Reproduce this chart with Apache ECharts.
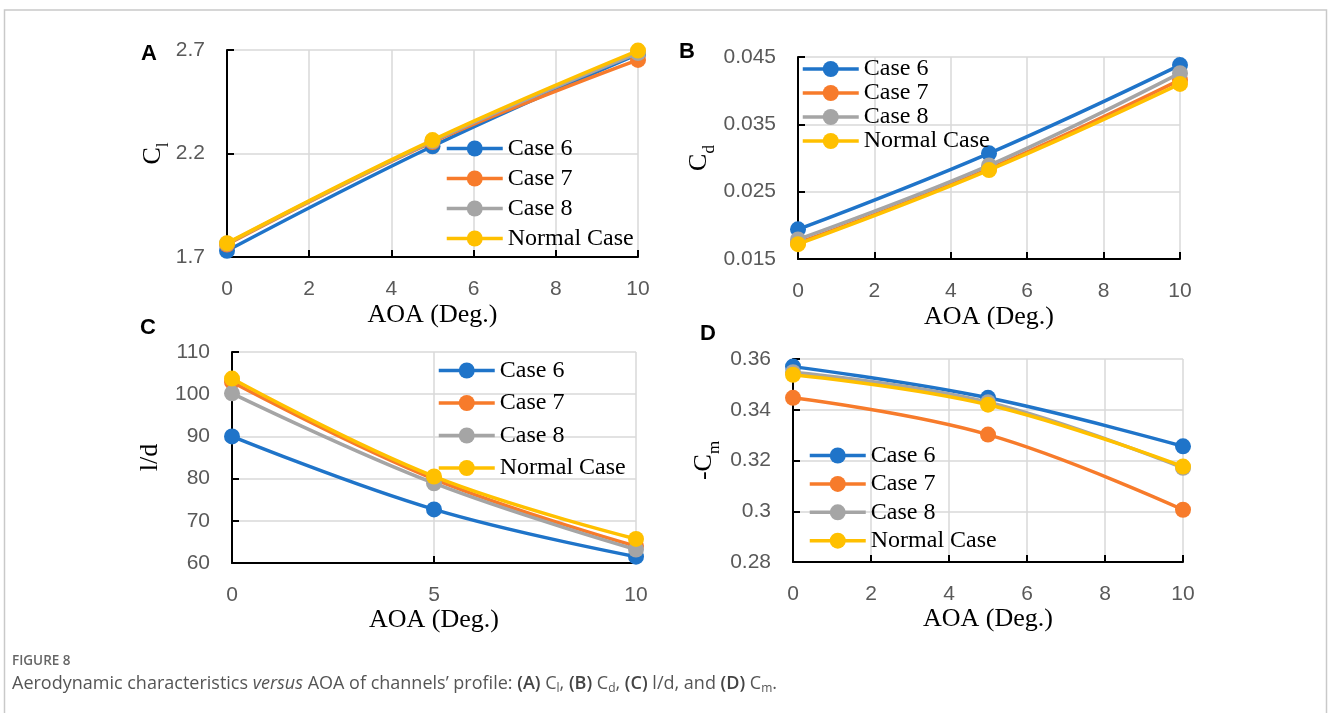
<!DOCTYPE html>
<html>
<head>
<meta charset="utf-8">
<title>Aerodynamic characteristics versus AOA</title>
<script src="https://cdn.jsdelivr.net/npm/echarts@6/dist/echarts.min.js"></script>
<style>
  html, body { margin: 0; padding: 0; background: #fff; }
  #chart { width: 1328px; height: 713px; }
</style>
</head>
<body>
<div id="chart"></div>
<script>
// Angle of attack (deg.)
const aoa = [0, 5, 10];
const caseNames = ['Case 6', 'Case 7', 'Case 8', 'Normal Case'];

// (A) lift coefficient C_l
const clCase6  = [1.730, 2.235, 2.680];
const clCase7  = [1.760, 2.255, 2.652];
const clCase8  = [1.765, 2.260, 2.685];
const clNormal = [1.767, 2.265, 2.697];

// (B) drag coefficient C_d
const cdCase6  = [0.0194, 0.0307, 0.0438];
const cdCase7  = [0.0174, 0.0284, 0.0416];
const cdCase8  = [0.0179, 0.0289, 0.0426];
const cdNormal = [0.0172, 0.0282, 0.0410];

// (C) lift-to-drag ratio l/d
const ldCase6  = [90.0, 72.7, 61.5];
const ldCase7  = [102.9, 79.9, 64.0];
const ldCase8  = [100.2, 78.9, 63.2];
const ldNormal = [103.7, 80.5, 65.7];

// (D) pitching moment -C_m
const cmCase6  = [0.3570, 0.3447, 0.3256];
const cmCase7  = [0.3447, 0.3302, 0.3006];
const cmCase8  = [0.3548, 0.3430, 0.3171];
const cmNormal = [0.3538, 0.3420, 0.3176];

// Tick values
const clTicks = [1.7, 2.2, 2.7];
const cdTicks = [0.015, 0.025, 0.035, 0.045];
const ldTicks = [60, 70, 80, 90, 100, 110];
const cmTicks = [0.28, 0.30, 0.32, 0.34, 0.36];
const aoaTicksFine = [0, 2, 4, 6, 8, 10];
const aoaTicksCoarse = [0, 5, 10];

const colors = ['#1f74c9', '#f77b2b', '#a5a5a5', '#ffc000'];

const serif = '"Liberation Serif", "Times New Roman", serif';
const sans = '"Liberation Sans", Arial, sans-serif';

const panels = [
  { grid: { left: 227, top: 50, width: 411, height: 207 }, xt: aoaTicksFine, yt: clTicks,
    data: [clCase6, clCase7, clCase8, clNormal],
    yName: '{c|C}{s|l}', yGap: 58, xGap: 45,
    legend: { left: 445, top: 136.5, itemGap: 6 }, tag: 'A', tagPos: [149, 54] },
  { grid: { left: 798, top: 57, width: 382, height: 202 }, xt: aoaTicksFine, yt: cdTicks,
    data: [cdCase6, cdCase7, cdCase8, cdNormal],
    yName: '{c|C}{s|d}', yGap: 84, xGap: 45,
    legend: { left: 801, top: 57, itemGap: 0 }, tag: 'B', tagPos: [687, 52] },
  { grid: { left: 232, top: 352, width: 404, height: 211 }, xt: aoaTicksCoarse, yt: ldTicks,
    data: [ldCase6, ldCase7, ldCase8, ldNormal],
    yName: '{c|l/d}', yGap: 67, xGap: 41,
    legend: { left: 437, top: 358.5, itemGap: 8.5 }, tag: 'C', tagPos: [148, 328] },
  { grid: { left: 793, top: 359, width: 390, height: 203 }, xt: aoaTicksFine, yt: cmTicks,
    data: [cmCase6, cmCase7, cmCase8, cmNormal],
    yName: '{c|-C}{s|m}', yGap: 74, xGap: 42,
    legend: { left: 808, top: 443.5, itemGap: 4.4 }, tag: 'D', tagPos: [708, 334] }
];

const step = t => +(t[1] - t[0]).toFixed(6);

const grid = [], xAxis = [], yAxis = [], series = [], legend = [], graphic = [];

panels.forEach((p, i) => {
  grid.push(Object.assign({ outerBoundsMode: 'none', containLabel: false }, p.grid));
  const axisLine = { show: true, onZero: false, lineStyle: { color: '#000', width: 2 } };
  const axisTick = { show: true, inside: true, length: 7, lineStyle: { color: '#000', width: 2 } };
  const splitLine = { show: true, lineStyle: { color: '#d9d9d9', width: 1.5 } };
  xAxis.push({
    type: 'value', gridIndex: i,
    min: p.xt[0], max: p.xt[p.xt.length - 1], interval: step(p.xt),
    axisLine, axisTick, splitLine,
    axisLabel: { color: '#595959', fontFamily: sans, fontSize: 21, margin: 22 },
    name: 'AOA (Deg.)', nameLocation: 'middle', nameGap: p.xGap,
    nameTextStyle: { fontFamily: serif, fontSize: 26, color: '#000' }
  });
  yAxis.push({
    type: 'value', gridIndex: i,
    min: p.yt[0], max: p.yt[p.yt.length - 1], interval: step(p.yt),
    axisLine, axisTick, splitLine,
    axisLabel: { color: '#595959', fontFamily: sans, fontSize: 21, margin: 22 },
    name: p.yName, nameLocation: 'middle', nameGap: p.yGap,
    nameTextStyle: {
      fontFamily: serif, color: '#000',
      rich: {
        c: { fontFamily: serif, fontSize: 26, color: '#000', lineHeight: 30, verticalAlign: 'middle' },
        s: { fontFamily: serif, fontSize: 17, color: '#000', lineHeight: 22, verticalAlign: 'bottom', padding: [0, 0, -4, 0] }
      }
    }
  });
  p.data.forEach((vals, k) => {
    series.push({
      type: 'line', name: caseNames[k], xAxisIndex: i, yAxisIndex: i,
      data: aoa.map((x, j) => [x, vals[j]]),
      smooth: 0.4,
      symbol: 'circle', symbolSize: 16, showSymbol: true,
      lineStyle: { color: colors[k], width: 3.5 },
      itemStyle: { color: colors[k] },
      emphasis: { disabled: true },
      z: 2 + k
    });
  });
  legend.push({
    orient: 'vertical', left: p.legend.left, top: p.legend.top, itemGap: p.legend.itemGap,
    padding: 0, itemWidth: 56, itemHeight: 20,
    data: caseNames,
    lineStyle: { width: 3.5 },
    textStyle: { fontFamily: serif, fontSize: 24, lineHeight: 24, color: '#000' },
    selectedMode: false
  });
  graphic.push({
    type: 'text', x: p.tagPos[0], y: p.tagPos[1], silent: true,
    style: { text: p.tag, font: 'bold 22px ' + sans, fill: '#000', align: 'center', verticalAlign: 'middle' }
  });
});

// Outer frame of the figure
graphic.push({
  type: 'rect', silent: true, z: -10,
  shape: { x: 4.5, y: 10, width: 1322, height: 740 },
  style: { fill: 'none', stroke: '#c9c9c9', lineWidth: 1.5 }
});

// Caption
const capFont = '"Open Sans", "Noto Sans", sans-serif';
graphic.push({
  type: 'text', x: 12, y: 661, silent: true,
  style: { text: 'FIGURE 8', font: '600 13.5px ' + capFont, fill: '#666', verticalAlign: 'middle' }
});
graphic.push({
  type: 'text', x: 12, y: 684, silent: true,
  style: {
    text: 'Aerodynamic characteristics {i|versus} AOA of channels\u2019 profile: {b|(A)} C{s|l}, {b|(B)} C{s|d}, {b|(C)} l/d, and {b|(D)} C{s|m}.',
    fontFamily: capFont, fontSize: 18, fill: '#555', verticalAlign: 'middle', lineHeight: 22,
    rich: {
      i: { fontFamily: capFont, fontSize: 18, fontStyle: 'italic', fill: '#555', lineHeight: 22 },
      b: { fontFamily: capFont, fontSize: 18, fontWeight: 600, fill: '#444', lineHeight: 22 },
      s: { fontFamily: capFont, fontSize: 12, fill: '#555', lineHeight: 16, verticalAlign: 'bottom' }
    }
  }
});

const chart = echarts.init(document.getElementById('chart'), null, { renderer: 'canvas' });
chart.setOption({
  animation: false,
  backgroundColor: '#fff',
  grid, xAxis, yAxis, series, legend, graphic
});
</script>
</body>
</html>
